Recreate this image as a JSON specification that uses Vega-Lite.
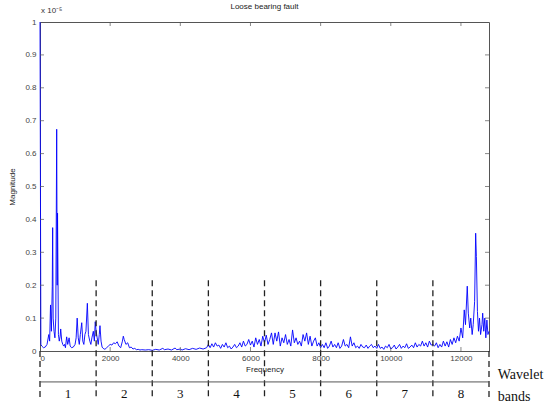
{
  "$schema": "https://vega.github.io/schema/vega-lite/v6.json",
  "autosize": "none",
  "width": 449,
  "height": 329,
  "padding": {"left": 40, "top": 22, "right": 66, "bottom": 52},
  "background": "white",
  "config": {
    "view": {"stroke": "#555", "strokeWidth": 1},
    "numberFormat": "~g",
    "axis": {"ticks": false, "grid": false, "labelFont": "Liberation Sans", "labelFontSize": 8, "labelColor": "#444", "titleFont": "Liberation Sans", "titleFontSize": 8, "titleFontWeight": "normal", "titleColor": "#222", "domainColor": "#555"},
    "axisX": {"tickCount": 7, "labelPadding": 3, "titlePadding": 3},
    "axisY": {"tickCount": 10, "labelPadding": 4, "titlePadding": 8}
  },
  "title": {"text": "Loose bearing fault", "fontSize": 8, "fontWeight": "normal", "color": "#222", "offset": -4, "font": "Liberation Sans", "frame": "group"},
  "datasets": {
    "spectrum": [
      {"f": 0, "m": 1.0}, {"f": 25, "m": 0.02}, {"f": 50, "m": 0.015}, {"f": 100, "m": 0.01}, {"f": 150, "m": 0.012}, {"f": 200, "m": 0.02},
      {"f": 250, "m": 0.05}, {"f": 275, "m": 0.03}, {"f": 300, "m": 0.14}, {"f": 325, "m": 0.06}, {"f": 350, "m": 0.197}, {"f": 361, "m": 0.375},
      {"f": 375, "m": 0.1}, {"f": 400, "m": 0.06}, {"f": 425, "m": 0.04}, {"f": 450, "m": 0.1}, {"f": 476, "m": 0.674}, {"f": 490, "m": 0.2},
      {"f": 500, "m": 0.419}, {"f": 525, "m": 0.05}, {"f": 550, "m": 0.03}, {"f": 575, "m": 0.045}, {"f": 590, "m": 0.067}, {"f": 620, "m": 0.03},
      {"f": 650, "m": 0.02}, {"f": 675, "m": 0.015}, {"f": 700, "m": 0.02}, {"f": 725, "m": 0.01}, {"f": 760, "m": 0.043}, {"f": 790, "m": 0.02},
      {"f": 830, "m": 0.04}, {"f": 860, "m": 0.015}, {"f": 900, "m": 0.01}, {"f": 950, "m": 0.012}, {"f": 1000, "m": 0.02}, {"f": 1030, "m": 0.04},
      {"f": 1060, "m": 0.1}, {"f": 1090, "m": 0.04}, {"f": 1120, "m": 0.02}, {"f": 1150, "m": 0.05}, {"f": 1190, "m": 0.086}, {"f": 1220, "m": 0.03},
      {"f": 1250, "m": 0.02}, {"f": 1280, "m": 0.05}, {"f": 1310, "m": 0.06}, {"f": 1350, "m": 0.145}, {"f": 1380, "m": 0.05}, {"f": 1420, "m": 0.03},
      {"f": 1450, "m": 0.02}, {"f": 1480, "m": 0.04}, {"f": 1520, "m": 0.06}, {"f": 1550, "m": 0.03}, {"f": 1575, "m": 0.089}, {"f": 1600, "m": 0.06},
      {"f": 1630, "m": 0.04}, {"f": 1660, "m": 0.02}, {"f": 1690, "m": 0.05}, {"f": 1710, "m": 0.077}, {"f": 1740, "m": 0.03}, {"f": 1770, "m": 0.012},
      {"f": 1800, "m": 0.008}, {"f": 1850, "m": 0.005}, {"f": 1900, "m": 0.01}, {"f": 1950, "m": 0.015}, {"f": 2000, "m": 0.02}, {"f": 2050, "m": 0.018},
      {"f": 2100, "m": 0.025}, {"f": 2150, "m": 0.022}, {"f": 2200, "m": 0.028}, {"f": 2250, "m": 0.015}, {"f": 2300, "m": 0.01}, {"f": 2350, "m": 0.03},
      {"f": 2375, "m": 0.045}, {"f": 2400, "m": 0.035}, {"f": 2450, "m": 0.02}, {"f": 2500, "m": 0.025}, {"f": 2550, "m": 0.01}, {"f": 2600, "m": 0.012},
      {"f": 2650, "m": 0.006}, {"f": 2700, "m": 0.008}, {"f": 2750, "m": 0.004}, {"f": 2800, "m": 0.005}, {"f": 2850, "m": 0.003}, {"f": 2900, "m": 0.004},
      {"f": 3000, "m": 0.003}, {"f": 3100, "m": 0.004}, {"f": 3200, "m": 0.002}, {"f": 3300, "m": 0.005}, {"f": 3400, "m": 0.003}, {"f": 3500, "m": 0.008},
      {"f": 3550, "m": 0.004}, {"f": 3650, "m": 0.006}, {"f": 3750, "m": 0.003}, {"f": 3850, "m": 0.009}, {"f": 3900, "m": 0.004}, {"f": 4000, "m": 0.006},
      {"f": 4050, "m": 0.003}, {"f": 4150, "m": 0.007}, {"f": 4250, "m": 0.004}, {"f": 4350, "m": 0.008}, {"f": 4450, "m": 0.005}, {"f": 4550, "m": 0.009},
      {"f": 4650, "m": 0.006}, {"f": 4750, "m": 0.01}, {"f": 4800, "m": 0.02}, {"f": 4850, "m": 0.01}, {"f": 4900, "m": 0.022}, {"f": 4950, "m": 0.012},
      {"f": 5000, "m": 0.025}, {"f": 5050, "m": 0.015}, {"f": 5100, "m": 0.018}, {"f": 5150, "m": 0.008}, {"f": 5200, "m": 0.02}, {"f": 5250, "m": 0.012},
      {"f": 5300, "m": 0.025}, {"f": 5350, "m": 0.01}, {"f": 5400, "m": 0.015}, {"f": 5450, "m": 0.006}, {"f": 5500, "m": 0.012}, {"f": 5550, "m": 0.02},
      {"f": 5600, "m": 0.01}, {"f": 5650, "m": 0.015}, {"f": 5700, "m": 0.025}, {"f": 5750, "m": 0.012}, {"f": 5800, "m": 0.03}, {"f": 5850, "m": 0.015},
      {"f": 5900, "m": 0.02}, {"f": 5950, "m": 0.035}, {"f": 6000, "m": 0.018}, {"f": 6050, "m": 0.03}, {"f": 6100, "m": 0.012}, {"f": 6150, "m": 0.04},
      {"f": 6200, "m": 0.02}, {"f": 6250, "m": 0.035}, {"f": 6300, "m": 0.015}, {"f": 6350, "m": 0.045}, {"f": 6400, "m": 0.025}, {"f": 6450, "m": 0.048},
      {"f": 6500, "m": 0.02}, {"f": 6550, "m": 0.035}, {"f": 6600, "m": 0.055}, {"f": 6650, "m": 0.02}, {"f": 6700, "m": 0.055}, {"f": 6750, "m": 0.03},
      {"f": 6800, "m": 0.058}, {"f": 6850, "m": 0.015}, {"f": 6900, "m": 0.04}, {"f": 6950, "m": 0.025}, {"f": 7000, "m": 0.05}, {"f": 7050, "m": 0.02},
      {"f": 7100, "m": 0.035}, {"f": 7150, "m": 0.015}, {"f": 7200, "m": 0.064}, {"f": 7250, "m": 0.025}, {"f": 7300, "m": 0.04}, {"f": 7350, "m": 0.02},
      {"f": 7400, "m": 0.03}, {"f": 7450, "m": 0.015}, {"f": 7500, "m": 0.05}, {"f": 7550, "m": 0.03}, {"f": 7600, "m": 0.055}, {"f": 7650, "m": 0.02},
      {"f": 7700, "m": 0.045}, {"f": 7750, "m": 0.015}, {"f": 7800, "m": 0.03}, {"f": 7850, "m": 0.04}, {"f": 7900, "m": 0.015}, {"f": 7950, "m": 0.025},
      {"f": 8000, "m": 0.01}, {"f": 8050, "m": 0.02}, {"f": 8100, "m": 0.01}, {"f": 8150, "m": 0.025}, {"f": 8200, "m": 0.008}, {"f": 8250, "m": 0.015},
      {"f": 8300, "m": 0.03}, {"f": 8350, "m": 0.012}, {"f": 8400, "m": 0.02}, {"f": 8450, "m": 0.01}, {"f": 8500, "m": 0.025}, {"f": 8550, "m": 0.008},
      {"f": 8600, "m": 0.015}, {"f": 8650, "m": 0.035}, {"f": 8700, "m": 0.015}, {"f": 8750, "m": 0.02}, {"f": 8800, "m": 0.01}, {"f": 8850, "m": 0.043},
      {"f": 8900, "m": 0.015}, {"f": 8950, "m": 0.025}, {"f": 9000, "m": 0.01}, {"f": 9050, "m": 0.015}, {"f": 9100, "m": 0.008}, {"f": 9150, "m": 0.02},
      {"f": 9200, "m": 0.012}, {"f": 9250, "m": 0.01}, {"f": 9300, "m": 0.018}, {"f": 9350, "m": 0.008}, {"f": 9400, "m": 0.015}, {"f": 9450, "m": 0.02},
      {"f": 9500, "m": 0.01}, {"f": 9550, "m": 0.015}, {"f": 9600, "m": 0.008}, {"f": 9650, "m": 0.02}, {"f": 9700, "m": 0.008}, {"f": 9750, "m": 0.012},
      {"f": 9800, "m": 0.005}, {"f": 9850, "m": 0.015}, {"f": 9900, "m": 0.01}, {"f": 9950, "m": 0.02}, {"f": 10000, "m": 0.006}, {"f": 10050, "m": 0.01},
      {"f": 10100, "m": 0.018}, {"f": 10150, "m": 0.006}, {"f": 10200, "m": 0.012}, {"f": 10250, "m": 0.02}, {"f": 10300, "m": 0.008}, {"f": 10350, "m": 0.015},
      {"f": 10400, "m": 0.01}, {"f": 10450, "m": 0.022}, {"f": 10500, "m": 0.008}, {"f": 10550, "m": 0.012}, {"f": 10600, "m": 0.018}, {"f": 10650, "m": 0.01},
      {"f": 10700, "m": 0.025}, {"f": 10750, "m": 0.012}, {"f": 10800, "m": 0.02}, {"f": 10850, "m": 0.015}, {"f": 10900, "m": 0.03}, {"f": 10950, "m": 0.015},
      {"f": 11000, "m": 0.025}, {"f": 11050, "m": 0.012}, {"f": 11100, "m": 0.03}, {"f": 11150, "m": 0.018}, {"f": 11200, "m": 0.02}, {"f": 11250, "m": 0.015},
      {"f": 11300, "m": 0.025}, {"f": 11350, "m": 0.01}, {"f": 11400, "m": 0.02}, {"f": 11450, "m": 0.012}, {"f": 11500, "m": 0.03}, {"f": 11550, "m": 0.015},
      {"f": 11600, "m": 0.028}, {"f": 11650, "m": 0.012}, {"f": 11700, "m": 0.035}, {"f": 11750, "m": 0.02}, {"f": 11800, "m": 0.04}, {"f": 11850, "m": 0.025},
      {"f": 11900, "m": 0.045}, {"f": 11950, "m": 0.03}, {"f": 12000, "m": 0.07}, {"f": 12050, "m": 0.04}, {"f": 12094, "m": 0.125}, {"f": 12130, "m": 0.08},
      {"f": 12180, "m": 0.197}, {"f": 12210, "m": 0.115}, {"f": 12250, "m": 0.07}, {"f": 12280, "m": 0.1}, {"f": 12320, "m": 0.05}, {"f": 12350, "m": 0.08},
      {"f": 12390, "m": 0.15}, {"f": 12420, "m": 0.358}, {"f": 12440, "m": 0.287}, {"f": 12470, "m": 0.12}, {"f": 12500, "m": 0.06}, {"f": 12530, "m": 0.1},
      {"f": 12560, "m": 0.05}, {"f": 12600, "m": 0.08}, {"f": 12620, "m": 0.115}, {"f": 12650, "m": 0.06}, {"f": 12680, "m": 0.1}, {"f": 12710, "m": 0.04},
      {"f": 12740, "m": 0.094}, {"f": 12770, "m": 0.05}, {"f": 12800, "m": 0.06}
    ],
    "boundaries": [
      {"f": 0, "top": 0, "bottom": -0.143}, {"f": 1600, "top": 0.215, "bottom": -0.143}, {"f": 3200, "top": 0.215, "bottom": -0.143},
      {"f": 4800, "top": 0.215, "bottom": -0.143}, {"f": 6400, "top": 0.215, "bottom": -0.143}, {"f": 8000, "top": 0.215, "bottom": -0.143},
      {"f": 9600, "top": 0.215, "bottom": -0.143}, {"f": 11200, "top": 0.215, "bottom": -0.143}, {"f": 12800, "top": 0, "bottom": -0.143}
    ],
    "bandline": [{"f0": 0, "f1": 12800, "y": -0.094}],
    "bandlabels": [
      {"f": 800, "y": -0.131, "band": "1"}, {"f": 2400, "y": -0.131, "band": "2"}, {"f": 4000, "y": -0.131, "band": "3"}, {"f": 5600, "y": -0.131, "band": "4"},
      {"f": 7200, "y": -0.131, "band": "5"}, {"f": 8800, "y": -0.131, "band": "6"}, {"f": 10400, "y": -0.131, "band": "7"}, {"f": 12000, "y": -0.131, "band": "8"}
    ],
    "notes": [
      {"f": 13050, "y": -0.073, "text": "Wavelet"},
      {"f": 13050, "y": -0.14, "text": "bands"}
    ],
    "exponent": [{"f": 0, "y": 1.02, "text": "x 10⁻⁵"}],
    "xticks": [{"f": 2000}, {"f": 4000}, {"f": 6000}, {"f": 8000}, {"f": 10000}, {"f": 12000}],
    "yticks": [{"y": 0.1}, {"y": 0.2}, {"y": 0.3}, {"y": 0.4}, {"y": 0.5}, {"y": 0.6}, {"y": 0.7}, {"y": 0.8}, {"y": 0.9}]
  },
  "layer": [
    {
      "data": {"name": "spectrum"},
      "mark": {"type": "line", "color": "#0000ff", "strokeWidth": 0.9, "interpolate": "linear"},
      "encoding": {
        "x": {"field": "f", "type": "quantitative", "title": "Frequency", "scale": {"domain": [0, 12800], "nice": false, "zero": false}, "axis": {"format": "d"}},
        "y": {"field": "m", "type": "quantitative", "title": "Magnitude", "scale": {"domain": [0, 1], "nice": false, "zero": false}}
      }
    },
    {
      "data": {"name": "xticks"},
      "mark": {"type": "tick", "orient": "vertical", "size": 8, "thickness": 1, "color": "#555", "clip": true},
      "encoding": {
        "x": {"field": "f", "type": "quantitative", "title": "Frequency"},
        "y": {"datum": 1, "type": "quantitative", "title": "Magnitude"}
      }
    },
    {
      "data": {"name": "xticks"},
      "mark": {"type": "tick", "orient": "vertical", "size": 8, "thickness": 1, "color": "#555", "clip": true},
      "encoding": {
        "x": {"field": "f", "type": "quantitative", "title": "Frequency"},
        "y": {"datum": 0, "type": "quantitative", "title": "Magnitude"}
      }
    },
    {
      "data": {"name": "yticks"},
      "mark": {"type": "tick", "orient": "horizontal", "size": 8, "thickness": 1, "color": "#555", "clip": true},
      "encoding": {
        "x": {"datum": 12800, "type": "quantitative", "title": "Frequency"},
        "y": {"field": "y", "type": "quantitative", "title": "Magnitude"}
      }
    },
    {
      "data": {"name": "yticks"},
      "mark": {"type": "tick", "orient": "horizontal", "size": 8, "thickness": 1, "color": "#555", "clip": true},
      "encoding": {
        "x": {"datum": 0, "type": "quantitative", "title": "Frequency"},
        "y": {"field": "y", "type": "quantitative", "title": "Magnitude"}
      }
    },
    {
      "data": {"name": "boundaries"},
      "mark": {"type": "rule", "color": "#222", "strokeWidth": 1.3, "strokeDash": [6, 4]},
      "encoding": {
        "x": {"field": "f", "type": "quantitative", "title": "Frequency"},
        "y": {"field": "top", "type": "quantitative", "title": "Magnitude"},
        "y2": {"field": "bottom"}
      }
    },
    {
      "data": {"name": "bandline"},
      "mark": {"type": "rule", "color": "#555", "strokeWidth": 1},
      "encoding": {
        "x": {"field": "f0", "type": "quantitative", "title": "Frequency"},
        "x2": {"field": "f1"},
        "y": {"field": "y", "type": "quantitative", "title": "Magnitude"}
      }
    },
    {
      "data": {"name": "bandlabels"},
      "mark": {"type": "text", "font": "Liberation Serif", "fontSize": 13, "color": "#111", "baseline": "middle", "align": "center"},
      "encoding": {
        "x": {"field": "f", "type": "quantitative", "title": "Frequency"},
        "y": {"field": "y", "type": "quantitative", "title": "Magnitude"},
        "text": {"field": "band"}
      }
    },
    {
      "data": {"name": "notes"},
      "mark": {"type": "text", "font": "Liberation Serif", "fontSize": 14, "color": "#111", "baseline": "middle", "align": "left"},
      "encoding": {
        "x": {"field": "f", "type": "quantitative", "title": "Frequency"},
        "y": {"field": "y", "type": "quantitative", "title": "Magnitude"},
        "text": {"field": "text"}
      }
    },
    {
      "data": {"name": "exponent"},
      "mark": {"type": "text", "font": "Liberation Sans", "fontSize": 8, "color": "#333", "baseline": "bottom", "align": "left", "dx": 1},
      "encoding": {
        "x": {"field": "f", "type": "quantitative", "title": "Frequency"},
        "y": {"field": "y", "type": "quantitative", "title": "Magnitude"},
        "text": {"field": "text"}
      }
    }
  ]
}
